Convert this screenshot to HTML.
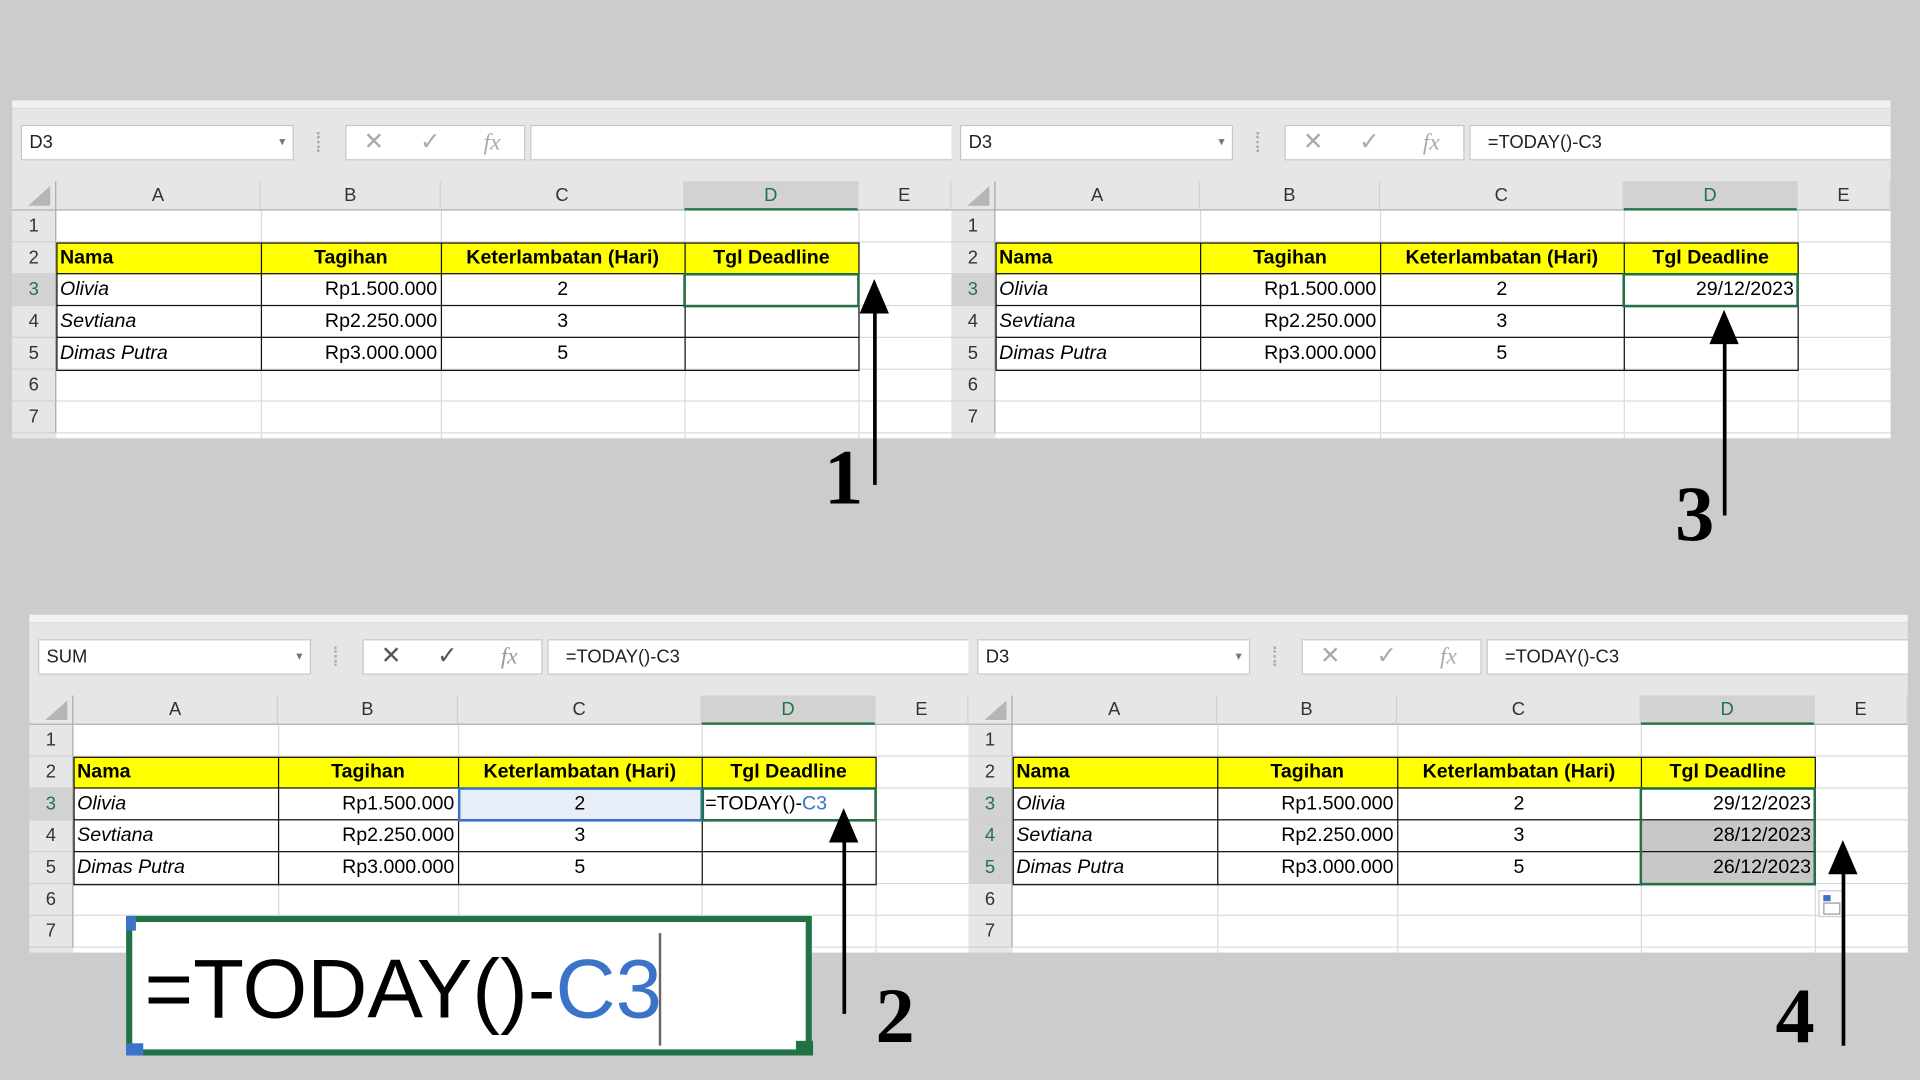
<!DOCTYPE html>
<html><head><meta charset="utf-8"><style>
html,body{margin:0;padding:0;width:1920px;height:1080px;overflow:hidden;background:#cccccc}
#s{position:absolute;left:0;top:0;width:1568px;height:882px;transform:scale(1.22449);transform-origin:0 0;font-family:"Liberation Sans",sans-serif}
.p{position:absolute;width:767px;height:276px;background:#e6e6e6;overflow:hidden}
.p>div{position:absolute;box-sizing:border-box}
.top{left:0;top:0;width:767px;height:7px;background:#f2f2f2;border-bottom:1px solid #dcdcdc}
.nb{left:7px;top:20px;width:223px;height:29px;background:#fff;border:1px solid #c6c6c6;font-size:15px;line-height:27px;padding-left:6px;color:#222}
.nb:after{content:"▾";position:absolute;right:6px;top:0;font-size:10px;color:#777}
.dots{left:249px;top:26px;width:2px;height:16px;border-left:2px dotted #aaa}
.ib{left:272px;top:20px;width:147px;height:29px;background:#fff;border:1px solid #c6c6c6;color:#aaa;font-size:20px;line-height:27px}
.ib span{position:absolute;top:0}
.fb{left:423px;top:20px;width:350px;height:29px;background:#fff;border:1px solid #c6c6c6;font-size:15px;line-height:27px;padding-left:14px;color:#222}
.grid{left:36px;top:90px;width:731px;height:186px;background:#fff}
.ch{top:66px;height:24px;font-size:15px;line-height:24px;text-align:center;color:#333;border-right:1px solid #d0d0d0;border-bottom:1px solid #aaa}
.rh{left:0;width:36px;height:26px;font-size:15px;line-height:26px;text-align:center;color:#333;border-bottom:1px solid #d0d0d0;border-right:1px solid #aaa;background:#e6e6e6}
.corner{left:0;top:66px;width:36px;height:24px;border-right:1px solid #aaa;border-bottom:1px solid #aaa}
.corner:after{content:"";position:absolute;right:4px;bottom:3px;border-left:18px solid transparent;border-bottom:16px solid #b5b5b5}
.vl{top:90px;height:186px;width:1px;background:#dadada}
.hl{left:36px;width:731px;height:1px;background:#dadada}
.c{height:26px;font-size:16px;line-height:26px;color:#000;padding:0 3px;white-space:nowrap;overflow:hidden}
.A{left:36px;width:167px}.B{left:203px;width:147px;text-align:right}.C{left:350px;width:199px;text-align:center}.D{left:549px;width:142px;text-align:center}
.r2{top:116px}.r3{top:142px}.r4{top:168px}.r5{top:194px}
.y{background:#ffff00;font-weight:bold}
.i{font-style:italic}
.tb{left:36px;top:116px;width:656px;height:105px;border:1px solid #111}
.tl{height:1px;background:#111;left:36px;width:656px}
.tv{width:1px;background:#111;top:116px;height:105px}
.gsel{border:2px solid #217346}
.arr{position:absolute;width:3px;background:#000}
.ah{position:absolute;width:0;height:0;border-left:12px solid transparent;border-right:12px solid transparent;border-bottom:28px solid #000}
.num{position:absolute;font-family:"Liberation Serif",serif;font-weight:bold;font-size:64px;line-height:64px;color:#000}
</style></head><body><div id="s">

<!-- Panel 1 -->
<div class="p" style="left:10px;top:82px">
<div class="top"></div>
<div class="nb">D3</div><div class="dots"></div>
<div class="ib"><span style="left:14px">✕</span><span style="left:60px">✓</span><span style="left:112px;font-family:'Liberation Serif',serif;font-style:italic;font-size:19px">fx</span></div>
<div class="fb"></div>
<div class="corner"></div>
<div class="ch" style="left:36px;width:167px">A</div><div class="ch" style="left:203px;width:147px">B</div><div class="ch" style="left:350px;width:199px">C</div><div class="ch" style="left:549px;width:142px;background:#d2d2d2;color:#217346;border-bottom:2px solid #217346">D</div><div class="ch" style="left:691px;width:76px">E</div>
<div class="grid"></div>
<div class="vl" style="left:203px"></div><div class="vl" style="left:350px"></div><div class="vl" style="left:549px"></div><div class="vl" style="left:691px"></div>
<div class="hl" style="top:115px"></div><div class="hl" style="top:141px"></div><div class="hl" style="top:167px"></div><div class="hl" style="top:193px"></div><div class="hl" style="top:219px"></div><div class="hl" style="top:245px"></div><div class="hl" style="top:271px"></div>
<div class="rh" style="top:90px">1</div><div class="rh" style="top:116px">2</div><div class="rh" style="top:142px;color:#217346;background:#d2d2d2">3</div><div class="rh" style="top:168px">4</div><div class="rh" style="top:194px">5</div><div class="rh" style="top:220px">6</div><div class="rh" style="top:246px">7</div>
<div class="c A r2 y">Nama</div><div class="c B r2 y" style="text-align:center">Tagihan</div><div class="c C r2 y">Keterlambatan (Hari)</div><div class="c D r2 y">Tgl Deadline</div>
<div class="c A r3 i">Olivia</div><div class="c B r3">Rp1.500.000</div><div class="c C r3">2</div>
<div class="c A r4 i">Sevtiana</div><div class="c B r4">Rp2.250.000</div><div class="c C r4">3</div>
<div class="c A r5 i">Dimas Putra</div><div class="c B r5">Rp3.000.000</div><div class="c C r5">5</div>
<div class="tb"></div><div class="tl" style="top:141px"></div><div class="tl" style="top:167px"></div><div class="tl" style="top:193px"></div>
<div class="tv" style="left:203px"></div><div class="tv" style="left:350px"></div><div class="tv" style="left:549px"></div>
<div class="gsel" style="left:548px;top:141px;width:144px;height:28px"></div>
</div>

<!-- Panel 3 -->
<div class="p" style="left:777px;top:82px">
<div class="top"></div>
<div class="nb">D3</div><div class="dots"></div>
<div class="ib"><span style="left:14px">✕</span><span style="left:60px">✓</span><span style="left:112px;font-family:'Liberation Serif',serif;font-style:italic;font-size:19px">fx</span></div>
<div class="fb">=TODAY()-C3</div>
<div class="corner"></div>
<div class="ch" style="left:36px;width:167px">A</div><div class="ch" style="left:203px;width:147px">B</div><div class="ch" style="left:350px;width:199px">C</div><div class="ch" style="left:549px;width:142px;background:#d2d2d2;color:#217346;border-bottom:2px solid #217346">D</div><div class="ch" style="left:691px;width:76px">E</div>
<div class="grid"></div>
<div class="vl" style="left:203px"></div><div class="vl" style="left:350px"></div><div class="vl" style="left:549px"></div><div class="vl" style="left:691px"></div>
<div class="hl" style="top:115px"></div><div class="hl" style="top:141px"></div><div class="hl" style="top:167px"></div><div class="hl" style="top:193px"></div><div class="hl" style="top:219px"></div><div class="hl" style="top:245px"></div><div class="hl" style="top:271px"></div>
<div class="rh" style="top:90px">1</div><div class="rh" style="top:116px">2</div><div class="rh" style="top:142px;color:#217346;background:#d2d2d2">3</div><div class="rh" style="top:168px">4</div><div class="rh" style="top:194px">5</div><div class="rh" style="top:220px">6</div><div class="rh" style="top:246px">7</div>
<div class="c A r2 y">Nama</div><div class="c B r2 y" style="text-align:center">Tagihan</div><div class="c C r2 y">Keterlambatan (Hari)</div><div class="c D r2 y">Tgl Deadline</div>
<div class="c A r3 i">Olivia</div><div class="c B r3">Rp1.500.000</div><div class="c C r3">2</div><div class="c D r3" style="text-align:right">29/12/2023</div>
<div class="c A r4 i">Sevtiana</div><div class="c B r4">Rp2.250.000</div><div class="c C r4">3</div>
<div class="c A r5 i">Dimas Putra</div><div class="c B r5">Rp3.000.000</div><div class="c C r5">5</div>
<div class="tb"></div><div class="tl" style="top:141px"></div><div class="tl" style="top:167px"></div><div class="tl" style="top:193px"></div>
<div class="tv" style="left:203px"></div><div class="tv" style="left:350px"></div><div class="tv" style="left:549px"></div>
<div class="gsel" style="left:548px;top:141px;width:144px;height:28px"></div>
</div>

<!-- Panel 2 -->
<div class="p" style="left:24px;top:502px">
<div class="top"></div>
<div class="nb">SUM</div><div class="dots"></div>
<div class="ib" style="color:#555"><span style="left:14px">✕</span><span style="left:60px">✓</span><span style="left:112px;font-family:'Liberation Serif',serif;font-style:italic;font-size:19px;color:#999">fx</span></div>
<div class="fb">=TODAY()-C3</div>
<div class="corner"></div>
<div class="ch" style="left:36px;width:167px">A</div><div class="ch" style="left:203px;width:147px">B</div><div class="ch" style="left:350px;width:199px">C</div><div class="ch" style="left:549px;width:142px;background:#d2d2d2;color:#217346;border-bottom:2px solid #217346">D</div><div class="ch" style="left:691px;width:76px">E</div>
<div class="grid"></div>
<div class="vl" style="left:203px"></div><div class="vl" style="left:350px"></div><div class="vl" style="left:549px"></div><div class="vl" style="left:691px"></div>
<div class="hl" style="top:115px"></div><div class="hl" style="top:141px"></div><div class="hl" style="top:167px"></div><div class="hl" style="top:193px"></div><div class="hl" style="top:219px"></div><div class="hl" style="top:245px"></div><div class="hl" style="top:271px"></div>
<div class="rh" style="top:90px">1</div><div class="rh" style="top:116px">2</div><div class="rh" style="top:142px;color:#217346;background:#d2d2d2">3</div><div class="rh" style="top:168px">4</div><div class="rh" style="top:194px">5</div><div class="rh" style="top:220px">6</div><div class="rh" style="top:246px">7</div>
<div class="c C r3" style="background:#e8eef8"></div>
<div class="c A r2 y">Nama</div><div class="c B r2 y" style="text-align:center">Tagihan</div><div class="c C r2 y">Keterlambatan (Hari)</div><div class="c D r2 y">Tgl Deadline</div>
<div class="c A r3 i">Olivia</div><div class="c B r3">Rp1.500.000</div><div class="c C r3">2</div><div class="c D r3" style="text-align:left">=TODAY()-<span style="color:#3b73c9">C3</span></div>
<div class="c A r4 i">Sevtiana</div><div class="c B r4">Rp2.250.000</div><div class="c C r4">3</div>
<div class="c A r5 i">Dimas Putra</div><div class="c B r5">Rp3.000.000</div><div class="c C r5">5</div>
<div class="tb"></div><div class="tl" style="top:141px"></div><div class="tl" style="top:167px"></div><div class="tl" style="top:193px"></div>
<div class="tv" style="left:203px"></div><div class="tv" style="left:350px"></div><div class="tv" style="left:549px"></div>
<div style="left:350px;top:141px;width:200px;height:28px;border:2px solid #3b73c9"></div>
<div class="gsel" style="left:549px;top:141px;width:143px;height:28px"></div>
</div>

<!-- Panel 4 -->
<div class="p" style="left:791px;top:502px">
<div class="top"></div>
<div class="nb">D3</div><div class="dots"></div>
<div class="ib"><span style="left:14px">✕</span><span style="left:60px">✓</span><span style="left:112px;font-family:'Liberation Serif',serif;font-style:italic;font-size:19px">fx</span></div>
<div class="fb">=TODAY()-C3</div>
<div class="corner"></div>
<div class="ch" style="left:36px;width:167px">A</div><div class="ch" style="left:203px;width:147px">B</div><div class="ch" style="left:350px;width:199px">C</div><div class="ch" style="left:549px;width:142px;background:#d2d2d2;color:#217346;border-bottom:2px solid #217346">D</div><div class="ch" style="left:691px;width:76px">E</div>
<div class="grid"></div>
<div class="vl" style="left:203px"></div><div class="vl" style="left:350px"></div><div class="vl" style="left:549px"></div><div class="vl" style="left:691px"></div>
<div class="hl" style="top:115px"></div><div class="hl" style="top:141px"></div><div class="hl" style="top:167px"></div><div class="hl" style="top:193px"></div><div class="hl" style="top:219px"></div><div class="hl" style="top:245px"></div><div class="hl" style="top:271px"></div>
<div class="rh" style="top:90px">1</div><div class="rh" style="top:116px">2</div><div class="rh" style="top:142px;color:#217346;background:#d2d2d2">3</div><div class="rh" style="top:168px;color:#217346;background:#d2d2d2">4</div><div class="rh" style="top:194px;color:#217346;background:#d2d2d2">5</div><div class="rh" style="top:220px">6</div><div class="rh" style="top:246px">7</div>
<div class="c A r2 y">Nama</div><div class="c B r2 y" style="text-align:center">Tagihan</div><div class="c C r2 y">Keterlambatan (Hari)</div><div class="c D r2 y">Tgl Deadline</div>
<div class="c A r3 i">Olivia</div><div class="c B r3">Rp1.500.000</div><div class="c C r3">2</div><div class="c D r3" style="text-align:right">29/12/2023</div>
<div class="c A r4 i">Sevtiana</div><div class="c B r4">Rp2.250.000</div><div class="c C r4">3</div><div class="c D r4" style="text-align:right;background:#c8c8c8">28/12/2023</div>
<div class="c A r5 i">Dimas Putra</div><div class="c B r5">Rp3.000.000</div><div class="c C r5">5</div><div class="c D r5" style="text-align:right;background:#c8c8c8">26/12/2023</div>
<div class="tb"></div><div class="tl" style="top:141px"></div><div class="tl" style="top:167px"></div><div class="tl" style="top:193px"></div>
<div class="tv" style="left:203px"></div><div class="tv" style="left:350px"></div><div class="tv" style="left:549px"></div>
<div class="gsel" style="left:548px;top:141px;width:144px;height:80px"></div>
<div style="left:694px;top:225px;width:20px;height:22px;background:#fff;border:1px solid #ccc"><div style="position:absolute;left:3px;top:3px;width:6px;height:5px;background:#3b73c9"></div><div style="position:absolute;left:3px;top:9px;width:12px;height:8px;border:1px solid #999"></div></div>
</div>

<!-- Zoom box -->
<div style="position:absolute;left:103px;top:748px;width:560px;height:114px;background:#fff;box-sizing:border-box;border:5px solid #217346"></div>
<div style="position:absolute;left:103px;top:748px;width:8px;height:12px;background:#3b73c9"></div>
<div style="position:absolute;left:103px;top:852px;width:14px;height:10px;background:#3b73c9"></div>
<div style="position:absolute;left:650px;top:850px;width:14px;height:12px;background:#217346"></div>
<div style="position:absolute;left:118px;top:768px;font-size:68px;line-height:80px;color:#000;letter-spacing:0">=TODAY()-<span style="color:#3b73c9">C3</span></div>
<div style="position:absolute;left:538px;top:762px;width:2px;height:92px;background:#666"></div>

<!-- Arrows -->
<div class="arr" style="left:713px;top:250px;height:146px"></div><div class="ah" style="left:702px;top:228px"></div>
<div class="num" style="left:673px;top:358px">1</div>
<div class="arr" style="left:1407px;top:275px;height:146px"></div><div class="ah" style="left:1396px;top:253px"></div>
<div class="num" style="left:1368px;top:388px">3</div>
<div class="arr" style="left:688px;top:682px;height:146px"></div><div class="ah" style="left:677px;top:660px"></div>
<div class="num" style="left:715px;top:798px">2</div>
<div class="arr" style="left:1504px;top:708px;height:146px"></div><div class="ah" style="left:1493px;top:686px"></div>
<div class="num" style="left:1450px;top:798px">4</div>

</div></body></html>
